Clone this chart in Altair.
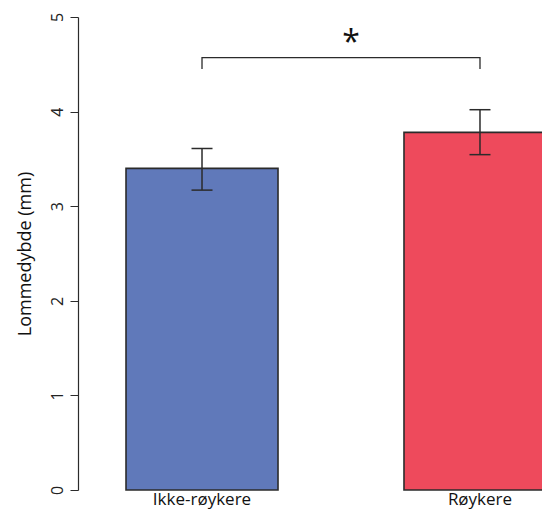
import altair as alt
import pandas as pd

groups = ["Ikke-røykere", "Røykere"]
means = [3.40, 3.78]
err_low = [3.17, 3.545]
err_high = [3.61, 4.02]
colors = ["#6079BA", "#EE4A5C"]

bracket_x = ["Ikke-røykere", "Ikke-røykere", "Røykere", "Røykere"]
bracket_y = [4.45, 4.57, 4.57, 4.45]
bracket_order = [0, 1, 2, 3]
star_y = 4.76
y_ticks = [0, 1, 2, 3, 4, 5]

FONT = "Open Sans"
INK = "#2b2b2b"

df = pd.DataFrame({"group": groups, "mean": means, "lo": err_low, "hi": err_high})
br = pd.DataFrame({"group": bracket_x, "y": bracket_y, "o": bracket_order})

xscale = alt.Scale(domain=groups, range=[0, 526], paddingInner=0.4532, paddingOuter=0.1727)
yscale = alt.Scale(domain=[0, 5], nice=False, zero=True)

x_enc = alt.X("group:N", scale=xscale, sort=groups,
              axis=alt.Axis(title=None, domain=False, ticks=False, labelAngle=0,
                            labelFont=FONT, labelFontSize=17, labelColor="#111",
                            labelPadding=1.5, labelBaseline="top"))
y_axis = alt.Axis(title="Lommedybde (mm)", values=y_ticks, format="d", grid=False,
                  domainColor=INK, tickColor=INK, tickSize=8, tickWidth=1, domainWidth=1.2,
                  labelAngle=-90, labelAlign="center", labelBaseline="bottom", labelPadding=5,
                  labelFont=FONT, labelFontSize=16, labelColor="#222",
                  titleFont=FONT, titleFontSize=18, titleFontWeight="normal", titleColor="#111",
                  titleAngle=-90, titleX=-53, titleY=236.5, titleBaseline="middle", titleAlign="center")

bars = alt.Chart(df).mark_bar(stroke=INK, strokeWidth=1.6).encode(
    x=x_enc,
    y=alt.Y("mean:Q", scale=yscale, axis=y_axis),
    color=alt.Color("group:N", scale=alt.Scale(domain=groups, range=colors), legend=None),
)

err = alt.Chart(df).mark_rule(color=INK, strokeWidth=1.5).encode(
    x=alt.X("group:N", scale=xscale, sort=groups),
    y=alt.Y("lo:Q", scale=yscale),
    y2="hi:Q",
)
cap_lo = alt.Chart(df).mark_tick(color=INK, size=21, thickness=1.5, opacity=1).encode(
    x=alt.X("group:N", scale=xscale, sort=groups),
    y=alt.Y("lo:Q", scale=yscale),
)
cap_hi = alt.Chart(df).mark_tick(color=INK, size=21, thickness=1.5, opacity=1).encode(
    x=alt.X("group:N", scale=xscale, sort=groups),
    y=alt.Y("hi:Q", scale=yscale),
)

bracket = alt.Chart(br).mark_line(color=INK, strokeWidth=1.3).encode(
    x=alt.X("group:N", scale=xscale, sort=groups),
    y=alt.Y("y:Q", scale=yscale),
    order="o:O",
)

star = alt.Chart(pd.DataFrame({"t": ["*"]})).mark_text(
    font=FONT, fontSize=32, color="#111", dx=149, dy=3, baseline="middle", align="center"
).encode(
    x=alt.X("g:N", scale=xscale, sort=groups),
    y=alt.Y("y:Q", scale=yscale),
    text="t:N",
).transform_calculate(g="'Ikke-røykere'", y=str(star_y))

chart = alt.layer(bars, err, cap_lo, cap_hi, bracket, star).properties(
    width=464, height=473,
    background="white",
    autosize=alt.AutoSizeParams(type="none"),
    padding={"left": 70, "top": 9, "right": 0, "bottom": 20},
).configure_view(stroke="transparent", strokeWidth=0).configure_axis(grid=False)

chart.save("out.html", embed_options={"renderer": "svg", "actions": False})
